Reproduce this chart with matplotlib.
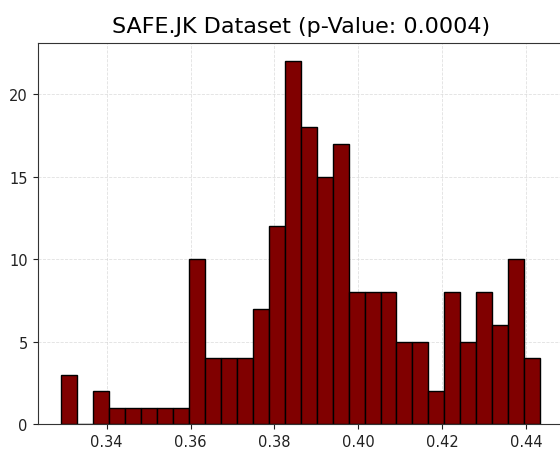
import numpy as np
import matplotlib
matplotlib.use('Agg')
import matplotlib.pyplot as plt

# histogram counts (30 bins)
counts = [3, 0, 2, 1, 1, 1, 1, 1, 10, 4, 4, 4, 7, 12, 22,
          18, 15, 17, 8, 8, 8, 5, 5, 2, 8, 5, 8, 6, 10, 4]
bin_start = 0.3292
bin_end = 0.4434
xticks = [0.34, 0.36, 0.38, 0.40, 0.42, 0.44]
yticks = [0, 5, 10, 15, 20]
title = "SAFE.JK Dataset (p-Value: 0.0004)"

edges = np.linspace(bin_start, bin_end, len(counts) + 1)

W, H = 560, 452
fig = plt.figure(figsize=(W / 100, H / 100), dpi=100)
ax = fig.add_axes([37.5 / W, (H - 425) / H, (564 - 37.5) / W, (425 - 44) / H])

ax.hist(edges[:-1], bins=edges, weights=counts,
        color='#800000', edgecolor='black', linewidth=1.0)

ax.set_xticks(xticks)
ax.set_xticklabels([f"{t:.2f}" for t in xticks])
ax.set_yticks(yticks)
ax.set_ylim(0, 23.1)
ax.set_xlim(bin_start - 0.0057, bin_end + 0.0057)
ax.tick_params(labelsize=10.5, colors='#222222')
ax.grid(True, linestyle='--', linewidth=0.6, color='#cccccc', alpha=0.6)
ax.set_axisbelow(True)
for s in ax.spines.values():
    s.set_color('#333333')

ax.set_title(title, fontsize=16, pad=8)

fig.savefig('out.png', dpi=100)
